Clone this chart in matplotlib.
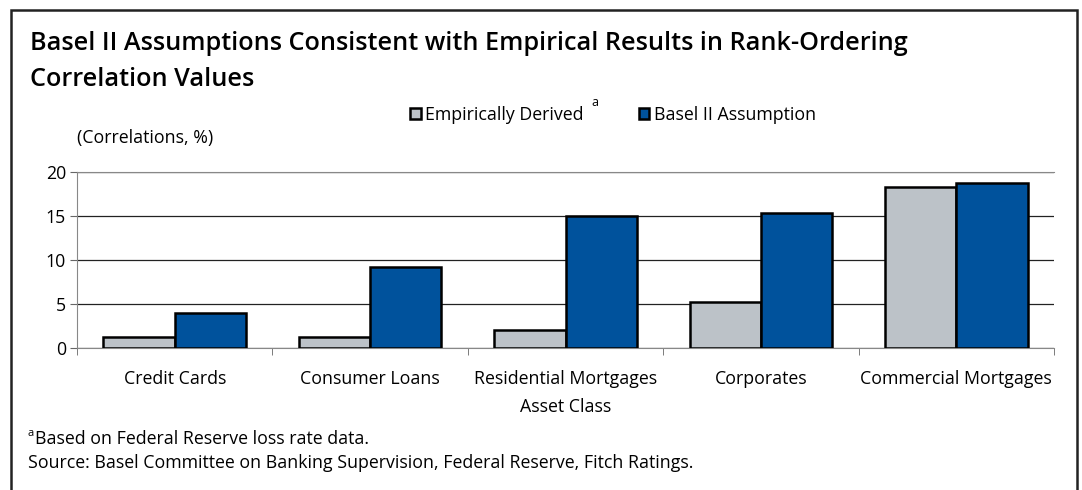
import numpy as np
import matplotlib.pyplot as plt
from matplotlib.patches import Rectangle

""" Data """
categories = ["Credit Cards", "Consumer Loans", "Residential Mortgages",
              "Corporates", "Commercial Mortgages"]
empirical = [1.3, 1.3, 2.0, 5.2, 18.3]
basel = [4.0, 9.2, 15.0, 15.3, 18.7]
yticks = [0, 5, 10, 15, 20]

plt.rcParams['font.family'] = ['Open Sans', 'DejaVu Sans']

W, H = 1082, 490
fs = 12.8
fig = plt.figure(figsize=(W / 100, H / 100), dpi=100)
ax = fig.add_axes([77 / W, 1 - 348 / H, (1054 - 77) / W, (348 - 172) / H])

""" Bars """
x = np.arange(len(categories))
bw = 0.365
ax.bar(x - bw / 2, empirical, bw, color="#bcc2c8", edgecolor="black",
       linewidth=1.8, zorder=3, label="Empirically Derived")
ax.bar(x + bw / 2, basel, bw, color="#00529c", edgecolor="black",
       linewidth=1.8, zorder=3, label="Basel II Assumption")

""" Axes """
ax.set_xlim(-0.5, len(categories) - 0.5)
ax.set_ylim(0, 20)
ax.set_yticks(yticks)
ax.tick_params(axis="y", labelsize=fs, length=5, color="#666666", pad=3)
ax.set_xticks(x)
ax.set_xticklabels(categories, fontsize=fs)
ax.tick_params(axis="x", length=0, pad=16)
ax.set_xticks(np.arange(len(categories) + 1) - 0.5, minor=True)
ax.tick_params(axis="x", which="minor", length=5, color="#666666")
ax.yaxis.grid(True, color="#222222", linewidth=0.9, zorder=0)
ax.set_axisbelow(True)
ax.spines["right"].set_visible(False)
ax.spines["top"].set_color("#888888")
ax.spines["left"].set_color("#888888")
ax.spines["bottom"].set_color("#888888")
ax.set_xlabel("Asset Class", fontsize=fs, labelpad=7)

""" Text """
fig.text(30 / W, 1 - 44 / H, "Basel II Assumptions Consistent with Empirical Results in Rank-Ordering",
         fontsize=18.2, fontweight="semibold", va="center")
fig.text(30 / W, 1 - 80 / H, "Correlation Values",
         fontsize=18.2, fontweight="semibold", va="center")
fig.text(77 / W, 1 - 138 / H, "(Correlations, %)", fontsize=fs, va="center")

""" Legend """
leg = ax.legend(loc="center", bbox_to_anchor=(613 / W, 1 - 115 / H),
                bbox_transform=fig.transFigure, ncol=2, frameon=False,
                fontsize=fs, handlelength=0.6, handleheight=0.6,
                handletextpad=0.25, columnspacing=3.1, borderpad=0)
fig.text(591 / W, 1 - 102 / H, "a", fontsize=9, va="center")

""" Footnotes """
fig.text(28 / W, 1 - 433 / H, "a", fontsize=8, va="center")
fig.text(35 / W, 1 - 439 / H, "Based on Federal Reserve loss rate data.", fontsize=fs, va="center")
fig.text(28 / W, 1 - 463 / H, "Source: Basel Committee on Banking Supervision, Federal Reserve, Fitch Ratings.",
         fontsize=fs, va="center")

""" Frame """
fig.patches.append(Rectangle((11 / W, -0.05), (1077 - 11) / W, 1.05 - 10 / H,
                             transform=fig.transFigure, fill=False,
                             edgecolor="#222222", linewidth=1.8))

fig.savefig("out.png", dpi=100)
